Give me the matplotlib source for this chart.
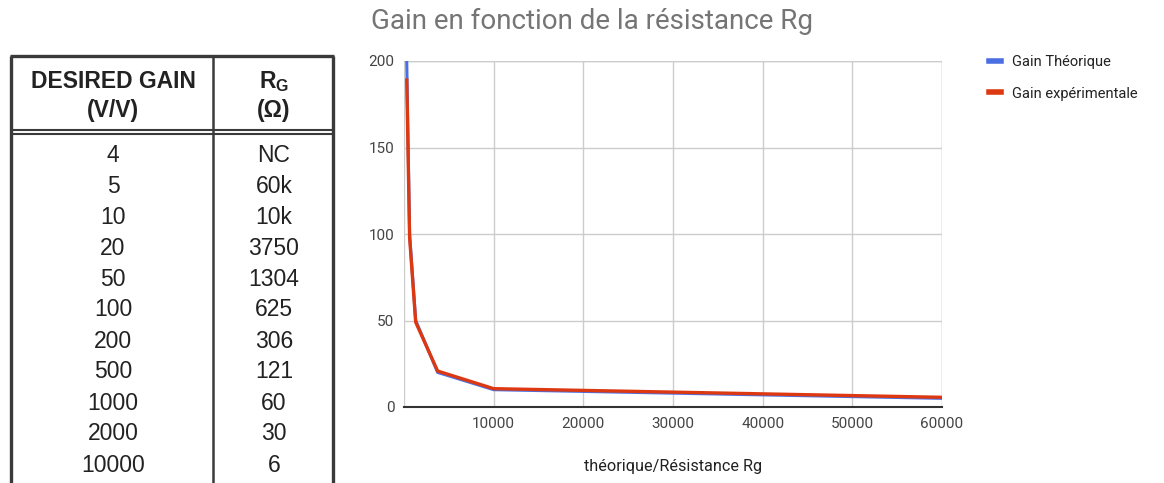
import matplotlib
matplotlib.use("Agg")
import matplotlib.pyplot as plt
from matplotlib.lines import Line2D

# table (left)
table_gain = ["4", "5", "10", "20", "50", "100", "200", "500", "1000", "2000", "10000"]
table_rg = ["NC", "60k", "10k", "3750", "1304", "625", "306", "121", "60", "30", "6"]

# chart data
rg = [306, 625, 1304, 3750, 10000, 60000]
gain_theo = [200, 100, 50, 20, 10, 5]
gain_exp = [189, 98, 49, 20.8, 10.6, 5.6]

x_ticks = [10000, 20000, 30000, 40000, 50000, 60000]
y_ticks = [0, 50, 100, 150, 200]

W, H = 1164, 483
fig = plt.figure(figsize=(W / 100, H / 100), dpi=100)


def fx(px):
    return px / W


def fy(py):
    return 1 - py / H


# --- table drawn in figure coords ---
border = "#3a3a3a"
tl = dict(color=border, transform=fig.transFigure, solid_capstyle="butt")
fig.add_artist(Line2D([fx(10), fx(334)], [fy(56), fy(56)], lw=2.4, **tl))
fig.add_artist(Line2D([fx(11), fx(11)], [fy(56), fy(490)], lw=2.4, **tl))
fig.add_artist(Line2D([fx(333), fx(333)], [fy(56), fy(490)], lw=2.4, **tl))
fig.add_artist(Line2D([fx(213), fx(213)], [fy(56), fy(490)], lw=1.8, **tl))
fig.add_artist(Line2D([fx(10), fx(334)], [fy(130), fy(130)], lw=1.5, **tl))
fig.add_artist(Line2D([fx(10), fx(334)], [fy(133.5), fy(133.5)], lw=1.5, **tl))

tfont = dict(family="Liberation Sans", color="#222222", ha="center", va="center")
fs = 16.5
fig.text(fx(113), fy(82), "DESIRED GAIN", fontsize=fs, fontweight="bold", **tfont)
fig.text(fx(113), fy(111), "(V/V)", fontsize=fs, fontweight="bold", **tfont)
fig.text(fx(274), fy(82), r"R$_\mathregular{G}$", fontsize=fs, fontweight="bold", **tfont)
fig.text(fx(274), fy(111), "(Ω)", fontsize=fs, fontweight="bold", **tfont)

row_y0, row_step = 155, 31
for i, (g, r) in enumerate(zip(table_gain, table_rg)):
    y = row_y0 + i * row_step
    fig.text(fx(113), fy(y), g, fontsize=fs, **tfont)
    fig.text(fx(274), fy(y), r, fontsize=fs, **tfont)

# --- chart ---
plt.rcParams["font.family"] = ["Roboto", "DejaVu Sans"]
ax = fig.add_axes([fx(404), fy(407), fx(942) - fx(404), fy(61) - fy(407)])
ax.plot(rg, gain_theo, color="#4a6fe3", lw=2.2, label="Gain Théorique", zorder=3)
ax.plot(rg, gain_exp, color="#dc3912", lw=2.4, label="Gain expérimentale", zorder=4)

ax.set_xlim(0, 60000)
ax.set_ylim(0, 200)
ax.set_xticks(x_ticks)
ax.set_xticklabels([str(t) for t in x_ticks])
ax.set_yticks(y_ticks)
ax.set_yticklabels([str(t) for t in y_ticks])
ax.tick_params(length=0, labelsize=11, colors="#444444", pad=7)
ax.grid(True, color="#cccccc", lw=1)
for s in ["top", "right", "left"]:
    ax.spines[s].set_visible(False)
ax.spines["bottom"].set_color("#333333")
ax.spines["bottom"].set_linewidth(1.5)
ax.axvline(0, color="#cccccc", lw=1, zorder=1)
ax.axhline(200, color="#cccccc", lw=1, zorder=1)
ax.axvline(60000, color="#cccccc", lw=1, zorder=1)

ax.set_xlabel("théorique/Résistance Rg", fontsize=11.7, color="#222222", labelpad=20)
fig.text(fx(371), fy(21), "Gain en fonction de la résistance Rg", fontsize=20,
         color="#757575", ha="left", va="center")

ax.legend(loc="upper left", bbox_to_anchor=(1.063, 1.055), frameon=False, fontsize=10.5,
          handlelength=0.8, handletextpad=0.8, labelspacing=1.2, labelcolor="#222222")
leg = ax.get_legend()
for h in leg.get_lines():
    h.set_linewidth(4)

fig.savefig("out.png", dpi=100)
